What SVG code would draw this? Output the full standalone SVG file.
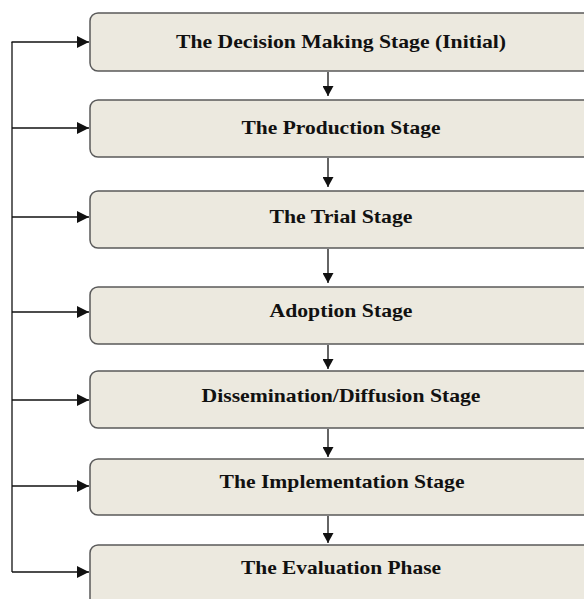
<svg xmlns="http://www.w3.org/2000/svg" width="584" height="599" viewBox="0 0 584 599">
<defs>
<style>
.box{fill:#ECE9DF;stroke:#5a5a5a;stroke-width:1.5}
.lbl{font-family:"Liberation Serif","Times New Roman",serif;font-weight:bold;font-size:19px;fill:#111;text-anchor:middle}
.c{stroke:#111;stroke-width:1.3;fill:none}
</style>
<marker id="ah" viewBox="0 0 10 10" refX="10" refY="5" markerWidth="10" markerHeight="11" markerUnits="userSpaceOnUse" orient="auto" preserveAspectRatio="none">
<path d="M0,0 L10,5 L0,10 Z" fill="#111"/>
</marker>
<marker id="ah2" viewBox="0 0 12 12" refX="12" refY="6" markerWidth="12" markerHeight="12" markerUnits="userSpaceOnUse" orient="auto">
<path d="M0,0 L12,6 L0,12 Z" fill="#111"/>
</marker>
</defs>
<rect width="584" height="599" fill="#fff"/>
<g id="n1"><rect class="box" x="90" y="13" width="510" height="58" rx="8"/><text class="lbl" x="341" y="48" textLength="330" lengthAdjust="spacingAndGlyphs">The Decision Making Stage (Initial)</text></g>
<g id="n2"><rect class="box" x="90" y="100" width="510" height="57" rx="8"/><text class="lbl" x="341" y="134" textLength="199" lengthAdjust="spacingAndGlyphs">The Production Stage</text></g>
<g id="n3"><rect class="box" x="90" y="191" width="510" height="57" rx="8"/><text class="lbl" x="341" y="223" textLength="143" lengthAdjust="spacingAndGlyphs">The Trial Stage</text></g>
<g id="n4"><rect class="box" x="90" y="287" width="510" height="57" rx="8"/><text class="lbl" x="341" y="317" textLength="143" lengthAdjust="spacingAndGlyphs">Adoption Stage</text></g>
<g id="n5"><rect class="box" x="90" y="371" width="510" height="57" rx="8"/><text class="lbl" x="341" y="402" textLength="279" lengthAdjust="spacingAndGlyphs">Dissemination/Diffusion Stage</text></g>
<g id="n6"><rect class="box" x="90" y="459" width="510" height="56" rx="8"/><text class="lbl" x="342" y="488" textLength="245" lengthAdjust="spacingAndGlyphs">The Implementation Stage</text></g>
<g id="n7"><rect class="box" x="90" y="545" width="510" height="70" rx="8"/><text class="lbl" x="341" y="574" textLength="200" lengthAdjust="spacingAndGlyphs">The Evaluation Phase</text></g>
<g id="connectors">
<line class="c" x1="328" y1="72" x2="328" y2="96" marker-end="url(#ah)"/>
<line class="c" x1="328" y1="158" x2="328" y2="187" marker-end="url(#ah)"/>
<line class="c" x1="328" y1="249" x2="328" y2="283" marker-end="url(#ah)"/>
<line class="c" x1="328" y1="345" x2="328" y2="369" marker-end="url(#ah)"/>
<line class="c" x1="328" y1="429" x2="328" y2="457" marker-end="url(#ah)"/>
<line class="c" x1="328" y1="516" x2="328" y2="543" marker-end="url(#ah)"/>
<line class="c" x1="12" y1="42" x2="12" y2="572"/>
<line class="c" x1="11.5" y1="42" x2="89" y2="42" stroke-width="2.2" marker-end="url(#ah2)"/>
<line class="c" x1="12" y1="128" x2="89" y2="128" marker-end="url(#ah2)"/>
<line class="c" x1="12" y1="217" x2="89" y2="217" marker-end="url(#ah2)"/>
<line class="c" x1="12" y1="312" x2="89" y2="312" stroke-width="1.8" marker-end="url(#ah2)"/>
<line class="c" x1="12" y1="400" x2="89" y2="400" stroke-width="1.6" marker-end="url(#ah2)"/>
<line class="c" x1="12" y1="486" x2="89" y2="486" marker-end="url(#ah2)"/>
<line class="c" x1="12" y1="572" x2="89" y2="572" marker-end="url(#ah2)"/>
</g>
</svg>
